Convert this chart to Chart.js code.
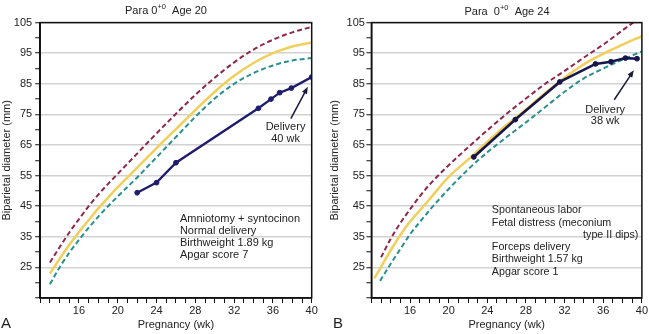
<!DOCTYPE html>
<html>
<head>
<meta charset="utf-8">
<script src="https://cdn.jsdelivr.net/npm/chart.js@4.4.1/dist/chart.umd.min.js"></script>
<style>
  html, body { margin: 0; padding: 0; background: #fff; }
  #wrap { position: relative; width: 649px; height: 334px; }
  canvas { position: absolute; top: 0; }
  #chartA { left: 0; }
  #chartB { left: 325px; }
</style>
</head>
<body>
<div id="wrap">
  <canvas id="chartA" width="325" height="334"></canvas>
  <canvas id="chartB" width="324" height="334"></canvas>
</div>
<script>
const FONT = "'Liberation Sans', Arial, Helvetica, sans-serif";

// shared axis labelling
const xTickLabels = [16, 20, 24, 28, 32, 36, 40];
const yTickLabels = [25, 35, 45, 55, 65, 75, 85, 95, 105];

// --- panel A: Para 0+0, age 20 ---
const curveWeeksA = [13, 14, 15, 16, 17, 18, 19, 20, 22, 24, 26, 28, 30, 32, 34, 36, 38, 40];
const upperA = [26.6, 31.6, 36.4, 40.8, 45, 48.8, 52.3, 55.6, 62.2, 68.8, 75.2, 81.4, 87, 92, 96.2, 99.4, 101.8, 103.6];
const meanA  = [23, 27.8, 32.4, 36.6, 40.5, 44.3, 47.8, 51.2, 57.6, 64, 70.2, 76.4, 82.4, 87.6, 91.8, 95, 97.2, 98.5];
const lowerA = [19.5, 25, 29.8, 34, 38, 41.6, 45, 48.2, 54.4, 61, 67.6, 74.2, 80.2, 85, 88.5, 91, 92.6, 93.4];
const scanWeeksA = [22, 24, 26, 34.5, 35.8, 36.7, 37.9, 40];
const scanBpdA   = [49.4, 52.7, 59.2, 77, 80, 82.1, 83.6, 87.2];
const notesA = ['Amniotomy + syntocinon', 'Normal delivery', 'Birthweight 1.89 kg', 'Apgar score 7'];

// --- panel B: Para 0+0, age 24 ---
const upperWeeksB = [13, 14, 15, 16, 17, 18, 19, 20, 22, 24, 26, 28, 30, 32, 34, 36, 38, 40];
const upperB = [28.3, 34.4, 39.5, 44, 48.2, 52, 55.3, 58.4, 64.2, 69.8, 75.2, 80.2, 85, 89.2, 93.6, 97.8, 102.5, 107];
const meanWeeksB = [12.3, 13, 14, 15, 16, 17, 18, 19, 20, 22, 24, 26, 28, 30, 32, 34, 36, 38, 40];
const meanB = [21.4, 25.2, 30.6, 35.6, 40, 43.6, 47.2, 51, 54.6, 60.2, 66, 71.6, 76.6, 82, 87, 91.4, 94.8, 97.8, 100.6];
const lowerWeeksB = [12.9, 14, 15, 16, 17, 18, 19, 20, 22, 24, 26, 28, 30, 32, 34, 36, 38, 40];
const lowerB = [20.6, 26.2, 31, 35.8, 39.8, 43.6, 47.2, 50.6, 57, 62.6, 67.6, 72.4, 77.4, 82.4, 86.8, 90, 92.9, 95.6];
const scanWeeksB = [22.6, 26.9, 31.5, 35.2, 36.8, 38.3, 39.5];
const scanBpdB   = [61.1, 73.3, 85.6, 91.5, 92.2, 93.4, 93.2];
const notesB = ['Spontaneous labor', 'Fetal distress (meconium', 'type II dips)', 'Forceps delivery', 'Birthweight 1.57 kg', 'Apgar score 1'];

function toPoints(xs, ys) {
    return xs.map((x, i) => ({ x: x, y: ys[i] }));
}

// frame, title, panel letter, notes and the delivery arrow
const decorPlugin = {
    id: 'decor',
    afterDraw(chart, args, o) {
        const { ctx, chartArea: a } = chart;
        const xs = chart.scales.x, ys = chart.scales.y;
        ctx.save();

        ctx.strokeStyle = '#111';
        ctx.lineWidth = 1.5;
        ctx.strokeRect(a.left, a.top, a.right - a.left, a.bottom - a.top);

        // title with superscript
        const parts = [[o.titleHead, 11, 0], ['+0', 7.5, -4], [o.titleTail, 11, 0]];
        let total = 0;
        parts.forEach(p => { ctx.font = p[1] + 'px ' + FONT; total += ctx.measureText(p[0]).width; });
        let tx = o.titleX - total / 2;
        ctx.fillStyle = '#222';
        ctx.textBaseline = 'middle';
        ctx.textAlign = 'left';
        parts.forEach(p => {
            ctx.font = p[1] + 'px ' + FONT;
            ctx.fillText(p[0], tx, o.titleY + p[2]);
            tx += ctx.measureText(p[0]).width;
        });

        ctx.font = '15px ' + FONT;
        ctx.fillText(o.letter, o.letterX, 324);

        // notes
        ctx.font = o.noteSize + 'px ' + FONT;
        const nx = xs.getPixelForValue(o.noteAt[0]);
        const ny = ys.getPixelForValue(o.noteAt[1]);
        o.notes.forEach((line, i) => {
            const y = ny + o.noteOffsets[i];
            if (o.rightLine === i) {
                ctx.textAlign = 'right';
                ctx.fillText(line, xs.getPixelForValue(o.rightAt), y);
                ctx.textAlign = 'left';
            } else {
                ctx.fillText(line, nx, y);
            }
        });

        // delivery label and arrow
        ctx.font = '11px ' + FONT;
        ctx.textAlign = 'center';
        const dx = xs.getPixelForValue(o.deliveryAt[0]);
        const dy = ys.getPixelForValue(o.deliveryAt[1]);
        ctx.fillText('Delivery', dx, dy);
        ctx.fillText(o.deliveryWeek, dx, dy + 11.5);

        const x0 = xs.getPixelForValue(o.arrowFrom[0]), y0 = ys.getPixelForValue(o.arrowFrom[1]);
        const x1 = xs.getPixelForValue(o.arrowTo[0]), y1 = ys.getPixelForValue(o.arrowTo[1]);
        const len = Math.hypot(x1 - x0, y1 - y0);
        const ux = (x1 - x0) / len, uy = (y1 - y0) / len;
        ctx.strokeStyle = '#1a1a3c';
        ctx.fillStyle = '#1a1a3c';
        ctx.lineWidth = 1.5;
        ctx.beginPath();
        ctx.moveTo(x0, y0);
        ctx.lineTo(x1 - ux * 6, y1 - uy * 6);
        ctx.stroke();
        ctx.beginPath();
        ctx.moveTo(x1, y1);
        ctx.lineTo(x1 - ux * 7 - uy * 2.8, y1 - uy * 7 + ux * 2.8);
        ctx.lineTo(x1 - ux * 7 + uy * 2.8, y1 - uy * 7 - ux * 2.8);
        ctx.closePath();
        ctx.fill();

        ctx.restore();
    }
};

function makePanel(id, cfg) {
    const ctx = document.getElementById(id).getContext('2d');
    return new Chart(ctx, {
        type: 'line',
        data: {
            datasets: [
                {
                    label: 'Patient',
                    data: toPoints(cfg.scanWeeks, cfg.scanBpd),
                    borderColor: cfg.scanColor,
                    backgroundColor: cfg.scanColor,
                    borderWidth: cfg.scanWidth,
                    pointRadius: 2.4,
                    pointBorderWidth: 1,
                    tension: 0
                },
                {
                    label: 'Upper',
                    data: toPoints(cfg.upperWeeks, cfg.upper),
                    borderColor: '#8f2748',
                    borderWidth: 2,
                    borderDash: [5, 3],
                    pointRadius: 0,
                    cubicInterpolationMode: 'monotone'
                },
                {
                    label: 'Mean',
                    data: toPoints(cfg.meanWeeks, cfg.mean),
                    borderColor: '#f0cf5a',
                    borderWidth: 2.5,
                    pointRadius: 0,
                    cubicInterpolationMode: 'monotone'
                },
                {
                    label: 'Lower',
                    data: toPoints(cfg.lowerWeeks, cfg.lower),
                    borderColor: '#2a8f8f',
                    borderWidth: 2,
                    borderDash: [5, 3],
                    pointRadius: 0,
                    cubicInterpolationMode: 'monotone'
                }
            ]
        },
        options: {
            responsive: false,
            animation: false,
            events: [],
            layout: { padding: { left: 0, right: cfg.padRight, top: 22.6, bottom: 0 } },
            plugins: {
                legend: { display: false },
                tooltip: { enabled: false },
                decor: cfg.decor
            },
            scales: {
                x: {
                    type: 'linear',
                    min: 12,
                    max: 40,
                    afterFit: s => { s.height = 36; },
                    ticks: {
                        stepSize: 1,
                        autoSkip: false,
                        maxRotation: 0,
                        padding: 1,
                        color: '#222',
                        font: { size: 11, family: FONT },
                        callback: v => xTickLabels.includes(v) ? String(v) : ''
                    },
                    grid: { drawOnChartArea: false, tickLength: 5, tickColor: '#111', tickWidth: 1 },
                    border: { color: '#111', width: 1.5 },
                    title: {
                        display: true,
                        text: 'Pregnancy (wk)',
                        color: '#222',
                        font: { size: 11, family: FONT },
                        padding: { top: 0, bottom: 2 }
                    }
                },
                y: {
                    type: 'linear',
                    min: 15,
                    max: 105,
                    afterFit: s => { s.width = cfg.yAxisWidth; },
                    ticks: {
                        stepSize: 5,
                        autoSkip: false,
                        padding: cfg.yTickPad,
                        color: '#222',
                        font: { size: 11, family: FONT },
                        callback: v => yTickLabels.includes(v) ? String(v) : ''
                    },
                    grid: {
                        color: c => yTickLabels.includes(c.tick.value) ? '#d2d2d2' : 'rgba(0,0,0,0)',
                        lineWidth: 1.5,
                        tickLength: 5,
                        tickColor: '#111',
                        tickWidth: 1
                    },
                    border: { color: '#111', width: 1.5 },
                    title: {
                        display: true,
                        text: 'Biparietal diameter (mm)',
                        color: '#222',
                        font: { size: 11, family: FONT },
                        padding: { top: cfg.yTitlePad, bottom: 0 }
                    }
                }
            }
        },
        plugins: [decorPlugin]
    });
}

makePanel('chartA', {
    upperWeeks: curveWeeksA, upper: upperA,
    meanWeeks: curveWeeksA, mean: meanA,
    lowerWeeks: curveWeeksA, lower: lowerA,
    scanWeeks: scanWeeksA, scanBpd: scanBpdA,
    scanColor: '#1e1c6c', scanWidth: 2.3,
    padRight: 13.3, yAxisWidth: 40.2, yTickPad: 3, yTitlePad: 0,
    decor: {
        titleHead: 'Para 0', titleTail: '  Age 20', titleX: 166, titleY: 10.5,
        letter: 'A', letterX: 1,
        notes: notesA, noteSize: 11, noteAt: [26.41, 40.7], noteOffsets: [0, 11.8, 23.6, 36],
        rightLine: -1, rightAt: 0,
        deliveryAt: [37.3, 70.8], deliveryWeek: '40 wk',
        arrowFrom: [37.85, 73.6], arrowTo: [39.6, 84.0]
    }
});

makePanel('chartB', {
    upperWeeks: upperWeeksB, upper: upperB,
    meanWeeks: meanWeeksB, mean: meanB,
    lowerWeeks: lowerWeeksB, lower: lowerB,
    scanWeeks: scanWeeksB, scanBpd: scanBpdB,
    scanColor: '#16154c', scanWidth: 2.6,
    padRight: 7, yAxisWidth: 46.4, yTickPad: 1.5, yTitlePad: 3.4,
    decor: {
        titleHead: 'Para  0', titleTail: '  Age 24', titleX: 182, titleY: 11.5,
        letter: 'B', letterX: 8,
        notes: notesB, noteSize: 10.7, noteAt: [24.47, 43.6], noteOffsets: [0, 12.2, 25, 37, 49, 61.7],
        rightLine: 2, rightAt: 39.63,
        deliveryAt: [36.2, 76.6], deliveryWeek: '38 wk',
        arrowFrom: [37.14, 79.8], arrowTo: [39.16, 89.4]
    }
});
</script>
</body>
</html>
